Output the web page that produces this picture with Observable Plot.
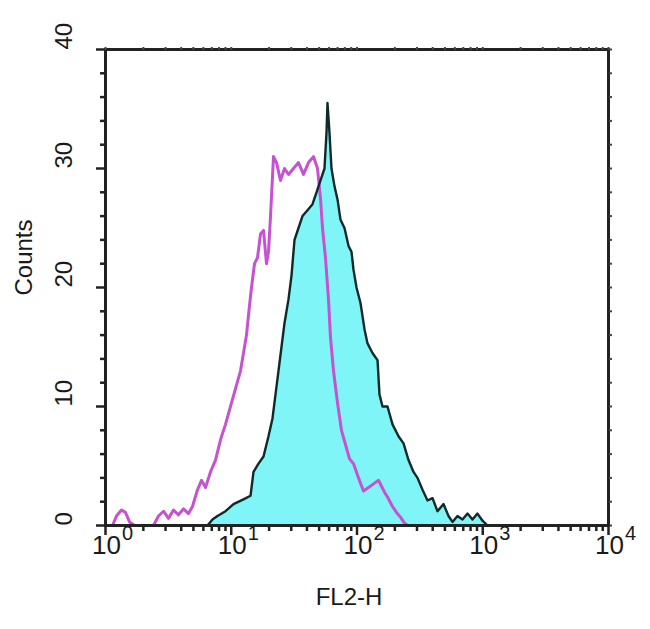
<!DOCTYPE html>
<html>
<head>
<meta charset="utf-8">
<script src="https://cdn.jsdelivr.net/npm/d3@7"></script>
<script src="https://cdn.jsdelivr.net/npm/@observablehq/plot@0.6"></script>
<style>
  html, body { margin: 0; padding: 0; background: #fff; }
  #chart svg { display: block; }
</style>
</head>
<body>
<div id="chart"></div>
<script>
// Stained sample (cyan filled histogram)
const cyanFL2 = [5.69, 6.47, 7.09, 7.77, 9.00, 10.42, 12.51, 14.23, 15.03, 16.47, 18.05, 19.78, 21.28, 22.48, 23.75, 25.09, 26.51, 28.52, 30.14, 31.84, 34.25, 36.86, 40.40, 44.28, 47.64, 51.25, 55.14, 57.20, 58.25, 60.42, 62.68, 66.22, 69.98, 73.92, 79.55, 85.55, 90.42, 93.78, 99.08, 106.6, 114.7, 121.2, 132.8, 145.6, 151.0, 159.5, 174.8, 191.6, 213.8, 234.4, 256.8, 281.4, 302.8, 331.9, 363.7, 398.6, 436.7, 487.4, 534.1, 574.7, 629.8, 690.1, 756.4, 828.6, 908.2, 995.4, 1091, 10000];
const cyanCounts = [0, 0, 0.5, 0.8, 1.2, 1.8, 2.2, 2.5, 4.5, 5.2, 5.8, 7.5, 9, 11, 13, 15, 17, 19, 21, 24, 25, 26, 26.5, 27, 28, 29, 30, 33, 35.5, 33, 30, 28.5, 27.4, 25.7, 25, 23.5, 23, 21.5, 20, 18.7, 16.5, 15.3, 14.5, 13.9, 11, 10, 10, 8.5, 7.5, 6.9, 5.5, 4.5, 4, 3, 2.1, 2.3, 1.2, 1.8, 0.8, 0.3, 0.8, 0.5, 1.0, 0.5, 1.0, 0.4, 0, 0];

// Isotype control (magenta outline)
const magFL2 = [1, 1.137, 1.223, 1.340, 1.442, 1.551, 1.701, 2.408, 2.639, 2.892, 3.170, 3.473, 3.806, 4.172, 4.571, 4.918, 5.390, 5.800, 6.240, 6.839, 7.495, 8.213, 9.00, 9.863, 10.81, 11.85, 12.51, 13.22, 13.97, 14.49, 15.31, 16.17, 17.09, 18.05, 19.07, 19.78, 20.52, 21.68, 22.90, 24.64, 26.51, 28.52, 31.26, 34.25, 37.54, 41.15, 45.08, 48.52, 51.25, 53.16, 56.16, 59.33, 61.54, 65.03, 69.98, 75.28, 81.03, 87.17, 93.78, 102.8, 112.6, 123.4, 135.3, 148.3, 156.6, 165.5, 174.8, 191.6, 206.1, 221.8, 238.6, 252.1, 10000];
const magCounts = [0, 0, 0.8, 1.3, 1.1, 0.3, 0, 0, 0.8, 1.2, 0.6, 1.3, 0.9, 1.4, 1.0, 1.6, 3.0, 3.8, 3.2, 4.5, 5.5, 7.2, 8.5, 10, 11.5, 13, 14.5, 16, 18.5, 20, 22, 22.5, 24.5, 24.8, 22, 23, 26, 31, 30.5, 29, 30, 29.5, 30, 30.5, 29.5, 30.5, 31, 30, 27.5, 25, 22.5, 19, 15.8, 13, 10.3, 8, 6.8, 5.6, 5.2, 4, 2.9, 3.2, 3.5, 3.8, 3.3, 2.8, 2.4, 1.6, 1.1, 0.7, 0.2, 0, 0];

// Axis ticks
const yMajor = [0, 10, 20, 30, 40];
const yMinor = [2, 4, 6, 8, 12, 14, 16, 18, 22, 24, 26, 28, 32, 34, 36, 38];
const xDecades = [1, 10, 100, 1000, 10000];
const xExponents = ["0", "1", "2", "3", "4"];
const xMinor = [2,3,4,5,6,7,8,9, 20,30,40,50,60,70,80,90, 200,300,400,500,600,700,800,900, 2000,3000,4000,5000,6000,7000,8000,9000];
const xLabel = "FL2-H";
const yLabel = "Counts";

const cyanData = cyanFL2.map((v, i) => ({fl2: v, count: cyanCounts[i]}));
const magData = magFL2.map((v, i) => ({fl2: v, count: magCounts[i]}));

const font = "'Liberation Sans', Arial, sans-serif";
const ink = "#1a1a1a";
const noText = () => "";

const chart = Plot.plot({
  width: 650,
  height: 629,
  marginTop: 49,
  marginRight: 42,
  marginBottom: 104,
  marginLeft: 105,
  style: {fontFamily: font, background: "#fff", color: ink},
  x: {type: "log", domain: [1, 10000], axis: null},
  y: {domain: [0, 40], axis: null},
  marks: [
    Plot.areaY(cyanData, {x: "fl2", y: "count", fill: "#7ff5f8"}),
    Plot.line(magData, {x: "fl2", y: "count", stroke: "#c553cf", strokeWidth: 3}),
    Plot.line(cyanData, {x: "fl2", y: "count", stroke: "#102a2a", strokeWidth: 2.4}),
    Plot.frame({stroke: "#222", strokeWidth: 3}),
    // left axis ticks
    Plot.axisY(yMajor, {anchor: "left", label: null, tickSize: 9, tickFormat: noText, stroke: "#222", strokeWidth: 2.5}),
    Plot.axisY(yMinor, {anchor: "left", label: null, tickSize: 5, tickFormat: noText, stroke: "#222", strokeWidth: 2.5}),
    // right axis small ticks
    Plot.axisY(yMajor.concat(yMinor), {anchor: "right", label: null, tickSize: 3, tickFormat: noText, stroke: "#444", strokeWidth: 2}),
    // bottom axis ticks
    Plot.axisX(xDecades, {anchor: "bottom", label: null, tickSize: 10, tickFormat: noText, stroke: "#222", strokeWidth: 2.5}),
    Plot.axisX(xMinor, {anchor: "bottom", label: null, tickSize: 6, tickFormat: noText, stroke: "#222", strokeWidth: 2.5}),
    // top axis small ticks
    Plot.axisX(xDecades.concat(xMinor), {anchor: "top", label: null, tickSize: 3, tickFormat: noText, stroke: "#444", strokeWidth: 2}),
    // y tick labels (rotated)
    Plot.text(yMajor, {y: d => d, text: d => String(d), frameAnchor: "left", dx: -41, rotate: -90, fontSize: 24, fill: ink}),
    // x tick labels: 10 with superscript exponent
    Plot.text(xDecades, {x: d => d, text: () => "10", frameAnchor: "bottom", dy: 28, dx: 1, fontSize: 26, fill: ink}),
    Plot.text(xDecades, {x: d => d, text: (d, i) => xExponents[i], frameAnchor: "bottom", dy: 14, dx: 22, fontSize: 20, fill: ink}),
    // axis titles
    Plot.text([xLabel], {frameAnchor: "bottom", dy: 79, dx: -8, fontSize: 24, fill: ink}),
    Plot.text([yLabel], {frameAnchor: "left", dx: -81, dy: 8, rotate: -90, fontSize: 24, fill: ink})
  ]
});
document.getElementById("chart").appendChild(chart);
</script>
</body>
</html>
